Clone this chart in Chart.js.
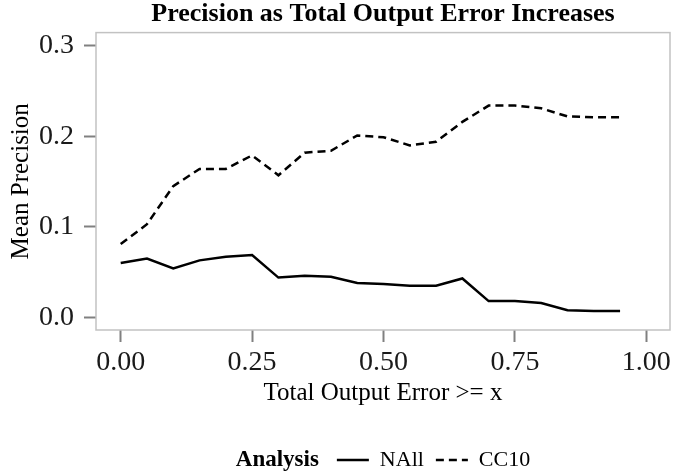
<!DOCTYPE html>
<html>
<head>
<meta charset="utf-8">
<script src="https://cdn.jsdelivr.net/npm/chart.js@4"></script>
<style>
  html, body { margin: 0; padding: 0; background: #fff; }
  #wrap { width: 674px; height: 473px; }
</style>
</head>
<body>
<div id="wrap"><canvas id="grafica"></canvas></div>
<script>
const thresholds = [0.00, 0.05, 0.10, 0.15, 0.20, 0.25, 0.30, 0.35, 0.40, 0.45,
                    0.50, 0.55, 0.60, 0.65, 0.70, 0.75, 0.80, 0.85, 0.90, 0.95];
const nallPrecision = [0.060, 0.065, 0.054, 0.063, 0.067, 0.069, 0.044, 0.046, 0.045, 0.038,
                       0.037, 0.035, 0.035, 0.043, 0.018, 0.018, 0.016, 0.008, 0.007, 0.007];
const cc10Precision = [0.081, 0.103, 0.145, 0.164, 0.164, 0.179, 0.157, 0.182, 0.184, 0.201,
                       0.199, 0.190, 0.194, 0.216, 0.234, 0.234, 0.231, 0.222, 0.221, 0.221];
const xTicks = [0, 0.25, 0.5, 0.75, 1];
const yTicks = [0, 0.1, 0.2, 0.3];

const serif = '"Liberation Serif", "Times New Roman", serif';
Chart.defaults.font.family = serif;
Chart.defaults.color = '#1a1a1a';

const ctx = document.getElementById('grafica');

// grey box round the panel
const panelBorder = {
    id: 'panelBorder',
    afterDatasetsDraw(chart) {
        const a = chart.chartArea;
        const c = chart.ctx;
        c.save();
        c.strokeStyle = '#c2c2c2';
        c.lineWidth = 1.5;
        c.strokeRect(a.left, a.top, a.right - a.left, a.bottom - a.top);
        c.restore();
    }
};

// "Analysis" sits on the same row as the legend items
const legendTitle = {
    id: 'legendTitle',
    afterLayout(chart) {
        const lg = chart.legend;
        const c = chart.ctx;
        c.save();
        c.font = 'bold 23px ' + serif;
        const tw = c.measureText('Analysis').width;
        c.restore();
        const gap = 18;
        const pad = lg.options.labels.padding;
        const itemsW = lg.lineWidths[0] - pad;
        const mid = (chart.chartArea.left + chart.chartArea.right) / 2;
        const start = mid - (tw + gap + itemsW) / 2 + tw + gap;
        const w = lg.right - lg.left;
        lg.left = start - pad;
        lg.right = lg.left + w;
        lg.top += 8;
        lg.bottom += 8;
        lg._titleX = start - gap;
    },
    afterDraw(chart) {
        const lg = chart.legend;
        const c = chart.ctx;
        const pad = lg.options.labels.padding;
        c.save();
        c.font = 'bold 23px ' + serif;
        c.fillStyle = '#000';
        c.textAlign = 'right';
        c.textBaseline = 'middle';
        c.fillText('Analysis', lg._titleX, lg.top + pad + 11);
        c.restore();
    }
};

new Chart(ctx, {
    type: 'line',
    data: {
        datasets: [{
            label: 'NAll',
            data: thresholds.map((t, i) => ({ x: t, y: nallPrecision[i] })),
            borderColor: '#000',
            borderWidth: 2.5,
            pointRadius: 0,
            tension: 0
        }, {
            label: 'CC10',
            data: thresholds.map((t, i) => ({ x: t, y: cc10Precision[i] })),
            borderColor: '#000',
            borderWidth: 2.5,
            borderDash: [8, 5],
            pointRadius: 0,
            tension: 0
        }]
    },
    options: {
        responsive: true,
        maintainAspectRatio: false,
        animation: false,
        layout: { padding: { left: 0, right: 4, top: 0, bottom: 0 } },
        plugins: {
            title: {
                display: true,
                text: 'Precision as Total Output Error Increases',
                fullSize: false,
                color: '#000',
                font: { size: 26, weight: 'bold', lineHeight: 1.1 },
                padding: { top: 0, bottom: 4 }
            },
            legend: {
                position: 'bottom',
                align: 'start',
                labels: {
                    usePointStyle: true,
                    pointStyle: 'line',
                    pointStyleWidth: 32,
                    color: '#000',
                    padding: 12,
                    font: { size: 22 },
                    // point style drops the dataset's dash, put it back
                    generateLabels(chart) {
                        const items = Chart.defaults.plugins.legend.labels.generateLabels(chart);
                        items.forEach(it => {
                            const ds = chart.data.datasets[it.datasetIndex];
                            it.lineDash = ds.borderDash || [];
                            it.lineWidth = ds.borderWidth;
                            it.strokeStyle = ds.borderColor;
                        });
                        return items;
                    }
                }
            },
            tooltip: { enabled: false }
        },
        scales: {
            x: {
                type: 'linear',
                min: -0.047,
                max: 1.045,
                bounds: 'data',
                border: { display: false },
                grid: {
                    drawOnChartArea: false,
                    drawTicks: true,
                    tickLength: 12,
                    tickWidth: 2,
                    tickColor: '#808080'
                },
                ticks: {
                    autoSkip: false,
                    maxRotation: 0,
                    padding: 4,
                    font: { size: 28 },
                    callback: v => v.toFixed(2)
                },
                title: {
                    display: true,
                    text: 'Total Output Error >= x',
                    color: '#000',
                    font: { size: 25 },
                    padding: { top: 0, bottom: 21 }
                },
                afterBuildTicks: s => { s.ticks = xTicks.map(v => ({ value: v })); },
                afterFit: s => { s.height = 99; s.paddingLeft = 0; s.paddingRight = 0; }
            },
            y: {
                min: -0.0139,
                max: 0.3146,
                bounds: 'data',
                border: { display: false },
                grid: {
                    drawOnChartArea: false,
                    drawTicks: true,
                    tickLength: 12,
                    tickWidth: 2,
                    tickColor: '#808080'
                },
                ticks: {
                    autoSkip: false,
                    padding: 10,
                    font: { size: 28 },
                    callback: v => v.toFixed(1)
                },
                title: {
                    display: true,
                    text: 'Mean Precision',
                    color: '#000',
                    font: { size: 25 },
                    padding: { top: 6, bottom: 0 }
                },
                afterBuildTicks: s => { s.ticks = yTicks.map(v => ({ value: v })); },
                afterFit: s => { s.width = 96; s.paddingTop = 0; s.paddingBottom = 0; }
            }
        }
    },
    plugins: [panelBorder, legendTitle]
});
</script>
</body>
</html>
